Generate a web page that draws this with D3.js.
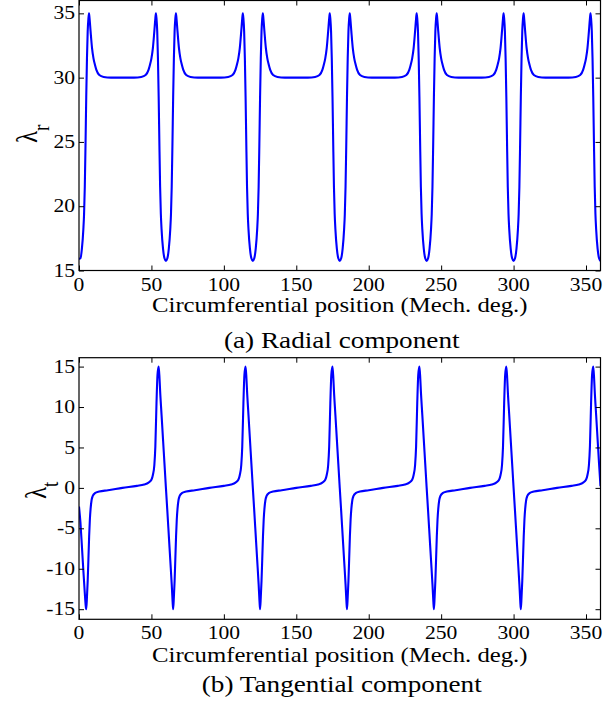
<!DOCTYPE html>
<html><head><meta charset="utf-8">
<script src="https://cdn.jsdelivr.net/npm/d3@7"></script>
<style>body{margin:0;background:#fff}</style>
</head><body><svg id="c" width="614" height="704"></svg>
<script>
const xTicks = [0, 50, 100, 150, 200, 250, 300, 350];
const radialYTicks = [15, 20, 25, 30, 35];
const tangYTicks = [-15, -10, -5, 0, 5, 10, 15];
const xLabel = "Circumferential position (Mech. deg.)";
const captions = ["(a) Radial component", "(b) Tangential component"];

const radialX = [
0,1,2,3,3.5,4,4.5,5,5.5,6,6.5,6.9,7.3,8,9,10,11,12,14,17,22,30,38,43,46,48,49,50,51,52,52.7,53.1,53.5,54,54.5,55,55.5,56,56.5,57,58,59,
60,61,62,63,63.5,64,64.5,65,65.5,66,66.5,66.9,67.3,68,69,70,71,72,74,77,82,90,98,103,106,108,109,110,111,112,112.7,113.1,113.5,114,114.5,115,115.5,116,116.5,117,118,119,
120,121,122,123,123.5,124,124.5,125,125.5,126,126.5,126.9,127.3,128,129,130,131,132,134,137,142,150,158,163,166,168,169,170,171,172,172.7,173.1,173.5,174,174.5,175,175.5,176,176.5,177,178,179,
180,181,182,183,183.5,184,184.5,185,185.5,186,186.5,186.9,187.3,188,189,190,191,192,194,197,202,210,218,223,226,228,229,230,231,232,232.7,233.1,233.5,234,234.5,235,235.5,236,236.5,237,238,239,
240,241,242,243,243.5,244,244.5,245,245.5,246,246.5,246.9,247.3,248,249,250,251,252,254,257,262,270,278,283,286,288,289,290,291,292,292.7,293.1,293.5,294,294.5,295,295.5,296,296.5,297,298,299,
300,301,302,303,303.5,304,304.5,305,305.5,306,306.5,306.9,307.3,308,309,310,311,312,314,317,322,330,338,343,346,348,349,350,351,352,352.7,353.1,353.5,354,354.5,355,355.5,356,356.5,357,358,359,
360];
const radialY = [
15.9,15.95,16.7,18.2,19.4,21.5,24.8,28.5,31.5,33.6,34.6,35.0,34.6,33.6,32.3,31.5,31.0,30.6,30.2,30.05,30.0,30.0,30.0,30.05,30.2,30.6,31.0,31.5,32.3,33.6,34.6,35.0,34.6,33.6,31.5,28.5,24.8,21.5,19.4,18.2,16.7,15.95,
15.75,15.95,16.7,18.2,19.4,21.5,24.8,28.5,31.5,33.6,34.6,35.0,34.6,33.6,32.3,31.5,31.0,30.6,30.2,30.05,30.0,30.0,30.0,30.05,30.2,30.6,31.0,31.5,32.3,33.6,34.6,35.0,34.6,33.6,31.5,28.5,24.8,21.5,19.4,18.2,16.7,15.95,
15.75,15.95,16.7,18.2,19.4,21.5,24.8,28.5,31.5,33.6,34.6,35.0,34.6,33.6,32.3,31.5,31.0,30.6,30.2,30.05,30.0,30.0,30.0,30.05,30.2,30.6,31.0,31.5,32.3,33.6,34.6,35.0,34.6,33.6,31.5,28.5,24.8,21.5,19.4,18.2,16.7,15.95,
15.75,15.95,16.7,18.2,19.4,21.5,24.8,28.5,31.5,33.6,34.6,35.0,34.6,33.6,32.3,31.5,31.0,30.6,30.2,30.05,30.0,30.0,30.0,30.05,30.2,30.6,31.0,31.5,32.3,33.6,34.6,35.0,34.6,33.6,31.5,28.5,24.8,21.5,19.4,18.2,16.7,15.95,
15.75,15.95,16.7,18.2,19.4,21.5,24.8,28.5,31.5,33.6,34.6,35.0,34.6,33.6,32.3,31.5,31.0,30.6,30.2,30.05,30.0,30.0,30.0,30.05,30.2,30.6,31.0,31.5,32.3,33.6,34.6,35.0,34.6,33.6,31.5,28.5,24.8,21.5,19.4,18.2,16.7,15.95,
15.75,15.95,16.7,18.2,19.4,21.5,24.8,28.5,31.5,33.6,34.6,35.0,34.6,33.6,32.3,31.5,31.0,30.6,30.2,30.05,30.0,30.0,30.0,30.05,30.2,30.6,31.0,31.5,32.3,33.6,34.6,35.0,34.6,33.6,31.5,28.5,24.8,21.5,19.4,18.2,16.7,15.95,
15.75];

const tangX = [
0,1,2,3,4,4.6,5,5.5,6,6.5,7,7.5,8,8.7,9.5,11,14,20,30,40,45,48,50,51,52,52.7,53.5,54.2,55,55.6,56,57,58,59,
60,61,62,63,64,64.6,65,65.5,66,66.5,67,67.5,68,68.7,69.5,71,74,80,90,100,105,108,110,111,112,112.7,113.5,114.2,115,115.6,116,117,118,119,
120,121,122,123,124,124.6,125,125.5,126,126.5,127,127.5,128,128.7,129.5,131,134,140,150,160,165,168,170,171,172,172.7,173.5,174.2,175,175.6,176,177,178,179,
180,181,182,183,184,184.6,185,185.5,186,186.5,187,187.5,188,188.7,189.5,191,194,200,210,220,225,228,230,231,232,232.7,233.5,234.2,235,235.6,236,237,238,239,
240,241,242,243,244,244.6,245,245.5,246,246.5,247,247.5,248,248.7,249.5,251,254,260,270,280,285,288,290,291,292,292.7,293.5,294.2,295,295.6,296,297,298,299,
300,301,302,303,304,304.6,305,305.5,306,306.5,307,307.5,308,308.7,309.5,311,314,320,330,340,345,348,350,351,352,352.7,353.5,354.2,355,355.6,356,357,358,359,
360];
const tangY = [
-2.3,-4.3,-7.2,-10.2,-13.0,-14.5,-15.0,-13.5,-11.5,-8.8,-6.0,-3.9,-2.6,-1.5,-1.0,-0.65,-0.45,-0.3,0.0,0.25,0.42,0.65,1.0,1.6,2.8,5.1,10.5,14.0,15.0,13.5,12.0,9.0,6.0,3.0,
0,-2.9,-5.9,-8.9,-11.9,-14.0,-15.0,-13.5,-11.5,-8.8,-6.0,-3.9,-2.6,-1.5,-1.0,-0.65,-0.45,-0.3,0.0,0.25,0.42,0.65,1.0,1.6,2.8,5.1,10.5,14.0,15.0,13.5,12.0,9.0,6.0,3.0,
0,-2.9,-5.9,-8.9,-11.9,-14.0,-15.0,-13.5,-11.5,-8.8,-6.0,-3.9,-2.6,-1.5,-1.0,-0.65,-0.45,-0.3,0.0,0.25,0.42,0.65,1.0,1.6,2.8,5.1,10.5,14.0,15.0,13.5,12.0,9.0,6.0,3.0,
0,-2.9,-5.9,-8.9,-11.9,-14.0,-15.0,-13.5,-11.5,-8.8,-6.0,-3.9,-2.6,-1.5,-1.0,-0.65,-0.45,-0.3,0.0,0.25,0.42,0.65,1.0,1.6,2.8,5.1,10.5,14.0,15.0,13.5,12.0,9.0,6.0,3.0,
0,-2.9,-5.9,-8.9,-11.9,-14.0,-15.0,-13.5,-11.5,-8.8,-6.0,-3.9,-2.6,-1.5,-1.0,-0.65,-0.45,-0.3,0.0,0.25,0.42,0.65,1.0,1.6,2.8,5.1,10.5,14.0,15.0,13.5,12.0,9.0,6.0,3.0,
0,-2.9,-5.9,-8.9,-11.9,-14.0,-15.0,-13.5,-11.5,-8.8,-6.0,-3.9,-2.6,-1.5,-1.0,-0.65,-0.45,-0.3,0.0,0.25,0.42,0.65,1.0,1.6,2.8,5.1,10.5,14.0,15.0,13.5,12.0,9.0,6.0,3.0,
0.2];

const SX = 1.2;
const FONT = "'Liberation Serif','Times New Roman',Times,serif";
const svg = d3.select("#c");
const L = 79, R = 600.5;

function panel(cfg, idx) {
  const x = d3.scaleLinear().domain([0, 360]).range([L, R]);
  const y = d3.scaleLinear().domain(cfg.ydom).range([cfg.bottom, cfg.top]);
  const g = svg.append("g");
  const cid = "clip" + idx;
  svg.append("defs").append("clipPath").attr("id", cid)
    .append("rect").attr("x", L).attr("y", cfg.top).attr("width", R - L).attr("height", cfg.bottom - cfg.top);

  g.append("path")
    .datum(d3.range(cfg.xs.length))
    .attr("clip-path", `url(#${cid})`)
    .attr("fill", "none").attr("stroke", "#0000ff").attr("stroke-width", 2.1)
    .attr("stroke-linejoin", "round")
    .attr("d", d3.line().x(i => x(cfg.xs[i])).y(i => y(cfg.ys[i])).curve(d3.curveMonotoneX));

  const styleAxis = sel => { sel.select(".domain").remove(); sel.selectAll(".tick line").attr("stroke", "#000"); };
  g.append("g").attr("transform", `translate(0,${cfg.bottom})`)
    .call(d3.axisBottom(x).tickValues(xTicks).tickSizeInner(-5).tickSizeOuter(0).tickFormat("")).call(styleAxis);
  g.append("g").attr("transform", `translate(0,${cfg.top})`)
    .call(d3.axisTop(x).tickValues(xTicks).tickSizeInner(-5).tickSizeOuter(0).tickFormat("")).call(styleAxis);
  g.append("g").attr("transform", `translate(${L},0)`)
    .call(d3.axisLeft(y).tickValues(cfg.yticks).tickSizeInner(-5).tickSizeOuter(0).tickFormat("")).call(styleAxis);
  g.append("g").attr("transform", `translate(${R},0)`)
    .call(d3.axisRight(y).tickValues(cfg.yticks).tickSizeInner(-5).tickSizeOuter(0).tickFormat("")).call(styleAxis);

  g.append("rect").attr("x", L).attr("y", cfg.top).attr("width", R - L).attr("height", cfg.bottom - cfg.top)
    .attr("fill", "none").attr("stroke", "#000").attr("stroke-width", 1.2);

  g.selectAll(".xl").data(xTicks).enter().append("text")
    .attr("transform", d => `translate(${x(d)},${cfg.xlabBase}) scale(${SX},1)`)
    .attr("text-anchor", "middle").attr("font-family", FONT).attr("font-size", 18).text(d => d);

  g.selectAll(".yl").data(cfg.yticks).enter().append("text")
    .attr("transform", d => `translate(75,${y(d)}) scale(${SX},1)`)
    .attr("text-anchor", "end").attr("dy", "0.34em")
    .attr("font-family", FONT).attr("font-size", 18).text(d => d < 0 ? "-" + Math.abs(d) : d);

  g.append("text")
    .attr("transform", `translate(${(L + R) / 2},${cfg.titleBase}) scale(${SX},1)`)
    .attr("text-anchor", "middle").attr("font-family", FONT).attr("font-size", 20.6).text(xLabel);

  g.append("text")
    .attr("transform", `translate(${(L + R) / 2 + 2},${cfg.capBase}) scale(1.22,1)`)
    .attr("text-anchor", "middle").attr("font-family", FONT).attr("font-size", 22.3).text(captions[idx]);

  const yt = g.append("text")
    .attr("transform", `translate(${cfg.ylabX},${cfg.ylabY}) scale(${SX},1) rotate(-90)`)
    .attr("text-anchor", "start").attr("font-family", FONT);
  yt.append("tspan").attr("font-size", 25).text("λ");
  yt.append("tspan").attr("font-size", 19).attr("dy", 10).text(cfg.sub);
}

panel({ ydom: [15, 36], top: 0.5, bottom: 270.5, yticks: radialYTicks, xs: radialX, ys: radialY,
        xlabBase: 291, titleBase: 312, capBase: 348, ylabX: 37, ylabY: 143, sub: "r" }, 0);
panel({ ydom: [-16.25, 16.1], top: 357.7, bottom: 619.3, yticks: tangYTicks, xs: tangX, ys: tangY,
        xlabBase: 639, titleBase: 662, capBase: 692, ylabX: 46, ylabY: 499, sub: "t" }, 1);
</script>
</body></html>
